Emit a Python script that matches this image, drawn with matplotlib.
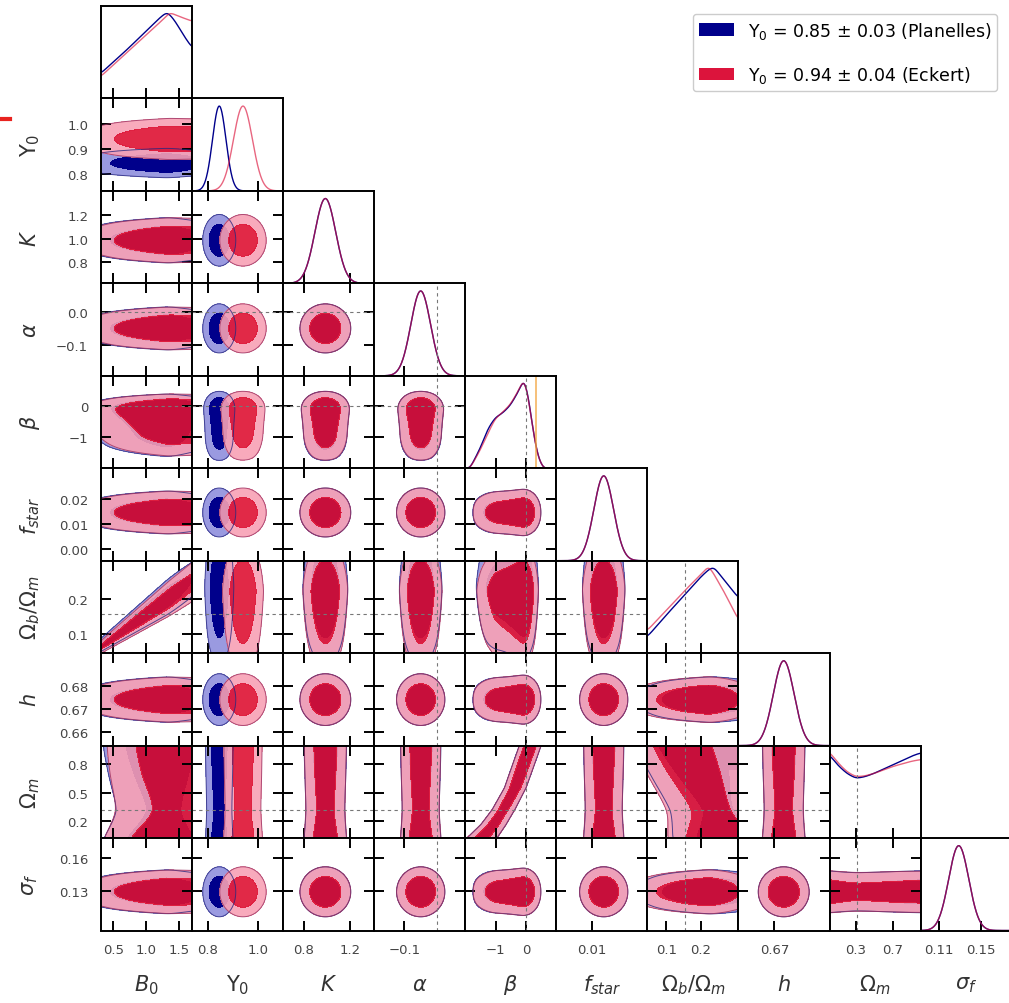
import numpy as np
import matplotlib
matplotlib.use("Agg")
import matplotlib.pyplot as plt
from matplotlib.patches import Patch
from matplotlib.lines import Line2D

# parametri del modello (ordine di riga/colonna del triangolo)
NAMES = ["B0", "Y0", "K", "alpha", "beta", "fstar", "obm", "h", "omm", "sigf"]
LABELS = [r"$B_0$", r"Y$_0$", r"$K$", r"$\alpha$", r"$\beta$", r"$f_{star}$",
          r"$\Omega_b/\Omega_m$", r"$h$", r"$\Omega_m$", r"$\sigma_f$"]
LO = [0.31, 0.735, 0.617, -0.192, -2.0, -0.0045, 0.045, 0.6544, 0.015, 0.093]
HI = [1.69, 1.10, 1.407, 0.085, 0.98, 0.0325, 0.31, 0.6938, 1.0, 0.179]

XTICKS = [[0.5, 1.0, 1.5], [0.8, 1.0], [0.8, 1.2], [-0.1], [-1, 0], [0.01],
          [0.1, 0.2], [0.67], [0.3, 0.7], [0.11, 0.15]]
XTICKLABELS = [["0.5", "1.0", "1.5"], ["0.8", "1.0"], ["0.8", "1.2"], ["\u22120.1"],
               ["\u22121", "0"], ["0.01"], ["0.1", "0.2"], ["0.67"], ["0.3", "0.7"],
               ["0.11", "0.15"]]
YTICKS = [[], [0.8, 0.9, 1.0], [0.8, 1.0, 1.2], [-0.1, 0.0], [-1, 0], [0.0, 0.01, 0.02],
          [0.1, 0.2], [0.66, 0.67, 0.68], [0.2, 0.5, 0.8], [0.13, 0.16]]
YTICKLABELS = [[], ["0.8", "0.9", "1.0"], ["0.8", "1.0", "1.2"], ["\u22120.1", "0.0"],
               ["\u22121", "0"], ["0.00", "0.01", "0.02"], ["0.1", "0.2"],
               ["0.66", "0.67", "0.68"], ["0.2", "0.5", "0.8"], ["0.13", "0.16"]]

# valori di riferimento (linee tratteggiate)
TRUTH = [None, None, None, 0.0, 0.0, None, 0.156, None, 0.31, None]
BETA_PRIOR_EDGE = 0.33

# posteriori quasi gaussiane: [Planelles, Eckert]
GAUSS_NAMES = ["Y0", "K", "alpha", "fstar", "h", "sigf"]
MEAN_PL = [0.845, 0.985, -0.05, 0.0148, 0.674, 0.129]
SD_PL = [0.027, 0.09, 0.03, 0.004, 0.0045, 0.0095]
MEAN_EC = [0.940, 0.985, -0.05, 0.0148, 0.674, 0.129]
SD_EC = [0.038, 0.09, 0.03, 0.004, 0.0045, 0.0095]

# posteriori non gaussiane lette per punti
B0_GRID = [0.31, 0.70, 1.00, 1.20, 1.31, 1.36, 1.45, 1.55, 1.69]
B0_PL = [0.29, 0.56, 0.78, 0.93, 1.00, 0.97, 0.88, 0.75, 0.59]
B0_EC = [0.255, 0.53, 0.74, 0.88, 0.965, 1.00, 0.97, 0.94, 0.90]

OBM_GRID = [0.045, 0.10, 0.15, 0.20, 0.224, 0.238, 0.27, 0.31]
OBM_PL = [0.19, 0.44, 0.66, 0.88, 0.97, 1.00, 0.84, 0.64]
OBM_EC = [0.26, 0.49, 0.70, 0.90, 1.00, 0.91, 0.69, 0.38]

BETA_GRID = [-2.0, -1.84, -1.51, -1.25, -1.02, -0.75, -0.52, -0.26, -0.07, 0.07, 0.23, 0.39, 0.56, 0.98]
BETA_PL = [0, 0, 0.22, 0.44, 0.56, 0.62, 0.70, 0.85, 1.0, 0.80, 0.40, 0.12, 0, 0]
BETA_EC = [0, 0, 0.20, 0.39, 0.55, 0.63, 0.71, 0.86, 1.0, 0.79, 0.39, 0.12, 0, 0]

OMM_GRID = [0.015, 0.1, 0.2, 0.3, 0.4, 0.5, 0.6, 0.7, 0.8, 0.9, 1.0]
OMM_PL = [0.98, 0.86, 0.76, 0.70, 0.72, 0.76, 0.81, 0.86, 0.91, 0.96, 1.0]
OMM_EC = [1.0, 0.88, 0.77, 0.71, 0.72, 0.75, 0.79, 0.83, 0.86, 0.89, 0.91]

# degenerazioni: B0 - Omega_b/Omega_m (cuneo), beta - Omega_m (banda curva)
OBM_RIDGE_B0 = [0.31, 1.69]
OBM_RIDGE_MID_PL = [0.068, 0.256]
OBM_RIDGE_MID_EC = [0.062, 0.248]
OBM_RIDGE_SD = [0.010, 0.030]
BETA_RIDGE_OMM = [0.015, 0.16, 0.32, 0.55, 1.0]
BETA_RIDGE_MID = [-1.45, -1.07, -0.74, -0.36, 0.13]
BETA_RIDGE_SD = [0.26, 0.22, 0.20, 0.18, 0.17]
OBM_OMM_SHEAR = 0.11

LEGEND_TEXT = [r"Y$_0$ = 0.85 $\pm$ 0.03 (Planelles)", r"Y$_0$ = 0.94 $\pm$ 0.04 (Eckert)"]

FILL = [["#9A9AE0", "#00008B"], ["#F8A1B5", "#DE1133"]]
FILL_ALPHA = [1.0, 0.9]
EDGE = ["#2A2A80", "#9B3060"]
LINE = ["#00008B", "#DC143C"]
LINE_ALPHA = [1.0, 0.65]
TABLES = {"B0": (B0_GRID, [B0_PL, B0_EC], 0.035), "obm": (OBM_GRID, [OBM_PL, OBM_EC], 0.007),
          "beta": (BETA_GRID, [BETA_PL, BETA_EC], 0.07), "omm": (OMM_GRID, [OMM_PL, OMM_EC], 0.03)}


def smooth_table(grid, dens, width):
    # curva a tratti lisciata con un nucleo gaussiano
    v = np.linspace(grid[0], grid[-1], 801)
    d = np.interp(v, grid, dens)
    step = v[1] - v[0]
    half = int(4 * width / step)
    ker = np.exp(-0.5 * (np.arange(-half, half + 1) * step / width) ** 2)
    ker /= ker.sum()
    dp = np.concatenate([np.full(half, d[0]), d, np.full(half, d[-1])])
    return v, np.convolve(dp, ker, mode="valid")


SMOOTH = {}
for key, (grid, dens, width) in TABLES.items():
    SMOOTH[key] = [smooth_table(grid, dens[s], width) for s in range(2)]


def marg(k, s, v):
    name = NAMES[k]
    if name in SMOOTH:
        vv, dd = SMOOTH[name][s]
        return np.interp(v, vv, dd)
    g = GAUSS_NAMES.index(name)
    m = [MEAN_PL, MEAN_EC][s][g]
    sd = [SD_PL, SD_EC][s][g]
    return np.exp(-0.5 * ((v - m) / sd) ** 2)


def dens2d(s, i, j, X, Y):
    nx, ny = NAMES[j], NAMES[i]
    if nx == "B0" and ny == "obm":
        mid = np.interp(X, OBM_RIDGE_B0, [OBM_RIDGE_MID_PL, OBM_RIDGE_MID_EC][s])
        sd = np.interp(X, OBM_RIDGE_B0, OBM_RIDGE_SD)
        return marg(j, s, X) * np.exp(-0.5 * ((Y - mid) / sd) ** 2) / sd
    if nx == "beta" and ny == "omm":
        mid = np.interp(Y, BETA_RIDGE_OMM, BETA_RIDGE_MID)
        sd = np.interp(Y, BETA_RIDGE_OMM, BETA_RIDGE_SD)
        return marg(i, s, Y) * np.exp(-0.5 * ((X - mid) / sd) ** 2) / sd
    if nx == "obm" and ny == "omm":
        return marg(j, s, X + OBM_OMM_SHEAR * (Y - 0.5)) * marg(i, s, Y)
    return marg(j, s, X) * marg(i, s, Y)


def hpd_levels(Z, fracs=(0.95, 0.68)):
    z = np.sort(Z.ravel())[::-1]
    c = np.cumsum(z)
    c /= c[-1]
    return [z[min(np.searchsorted(c, f), len(z) - 1)] for f in fracs]


W, H = 1009, 1004
x0, cw = 100.7, 91.1
y0, rh = 7.0, 92.45
n = len(NAMES)

fig = plt.figure(figsize=(W / 100, H / 100), dpi=100)

for i in range(n):
    for j in range(i + 1):
        ax = fig.add_axes([(x0 + j * cw) / W, 1 - (y0 + (i + 1) * rh) / H, cw / W, rh / H])
        for sp in ax.spines.values():
            sp.set_linewidth(1.4)
        ax.set_xlim(LO[j], HI[j])
        ax.set_xticks(XTICKS[j])
        if i == n - 1:
            ax.set_xticklabels(XTICKLABELS[j])
        ax.tick_params(direction="in", length=7, width=1.4, labelsize=9.5,
                       labelcolor="#444444", pad=9)

        if i == j:
            v = np.linspace(LO[j], HI[j], 400)
            for s in range(2):
                d = marg(j, s, v)
                ax.plot(v, d / d.max(), color=LINE[s], lw=1.0, alpha=LINE_ALPHA[s])
            ax.set_ylim(0, 1.09)
            ax.set_yticks([])
            ax.tick_params(top=False, right=False, left=False, labelbottom=(i == n - 1))
            if TRUTH[j] is not None:
                ax.axvline(TRUTH[j], color="#777777", lw=0.8, ls=(0, (3, 3)))
            if NAMES[j] == "beta":
                ax.axvline(BETA_PRIOR_EDGE, color="#F2A23A", lw=1.2, alpha=0.8)
            continue

        ax.set_ylim(LO[i], HI[i])
        ax.set_yticks(YTICKS[i])
        if j == 0:
            ax.set_yticklabels(YTICKLABELS[i])
        ax.tick_params(top=True, right=True, labelbottom=(i == n - 1), labelleft=(j == 0))

        gx = np.linspace(LO[j], HI[j], 160)
        gy = np.linspace(LO[i], HI[i], 160)
        X, Y = np.meshgrid(gx, gy)
        for s in range(2):
            Z = dens2d(s, i, j, X, Y)
            l95, l68 = hpd_levels(Z)
            ax.contourf(X, Y, Z, levels=[l95, l68, Z.max() * 1.01], colors=FILL[s],
                        alpha=FILL_ALPHA[s])
            ax.contour(X, Y, Z, levels=[l95], colors=EDGE[s], linewidths=0.7, alpha=0.8)

        if TRUTH[j] is not None:
            ax.axvline(TRUTH[j], color="#777777", lw=0.8, ls=(0, (3, 3)))
        if TRUTH[i] is not None:
            ax.axhline(TRUTH[i], color="#777777", lw=0.8, ls=(0, (3, 3)))

# etichette degli assi
for k in range(n):
    fig.text((x0 + (k + 0.5) * cw) / W, 1 - 985 / H, LABELS[k], ha="center", va="center",
             fontsize=15, color="#333333")
    if k > 0:
        fig.text(30 / W, 1 - (y0 + (k + 0.5) * rh) / H, LABELS[k], ha="center", va="center",
                 rotation=90, fontsize=15, color="#333333")

handles = [Patch(facecolor=LINE[0]), Patch(facecolor=LINE[1])]
fig.legend(handles, LEGEND_TEXT, loc="upper right", bbox_to_anchor=(1006 / W, 1 - 6 / H),
           fontsize=12.5, handlelength=2.0, handleheight=0.75, handletextpad=0.8,
           labelspacing=1.35, borderpad=0.35, framealpha=1.0, edgecolor="#cccccc")

fig.add_artist(Line2D([0, 10 / W], [1 - 120 / H, 1 - 120 / H], color="#E8231F", lw=3))

fig.savefig("out.png", dpi=100)
